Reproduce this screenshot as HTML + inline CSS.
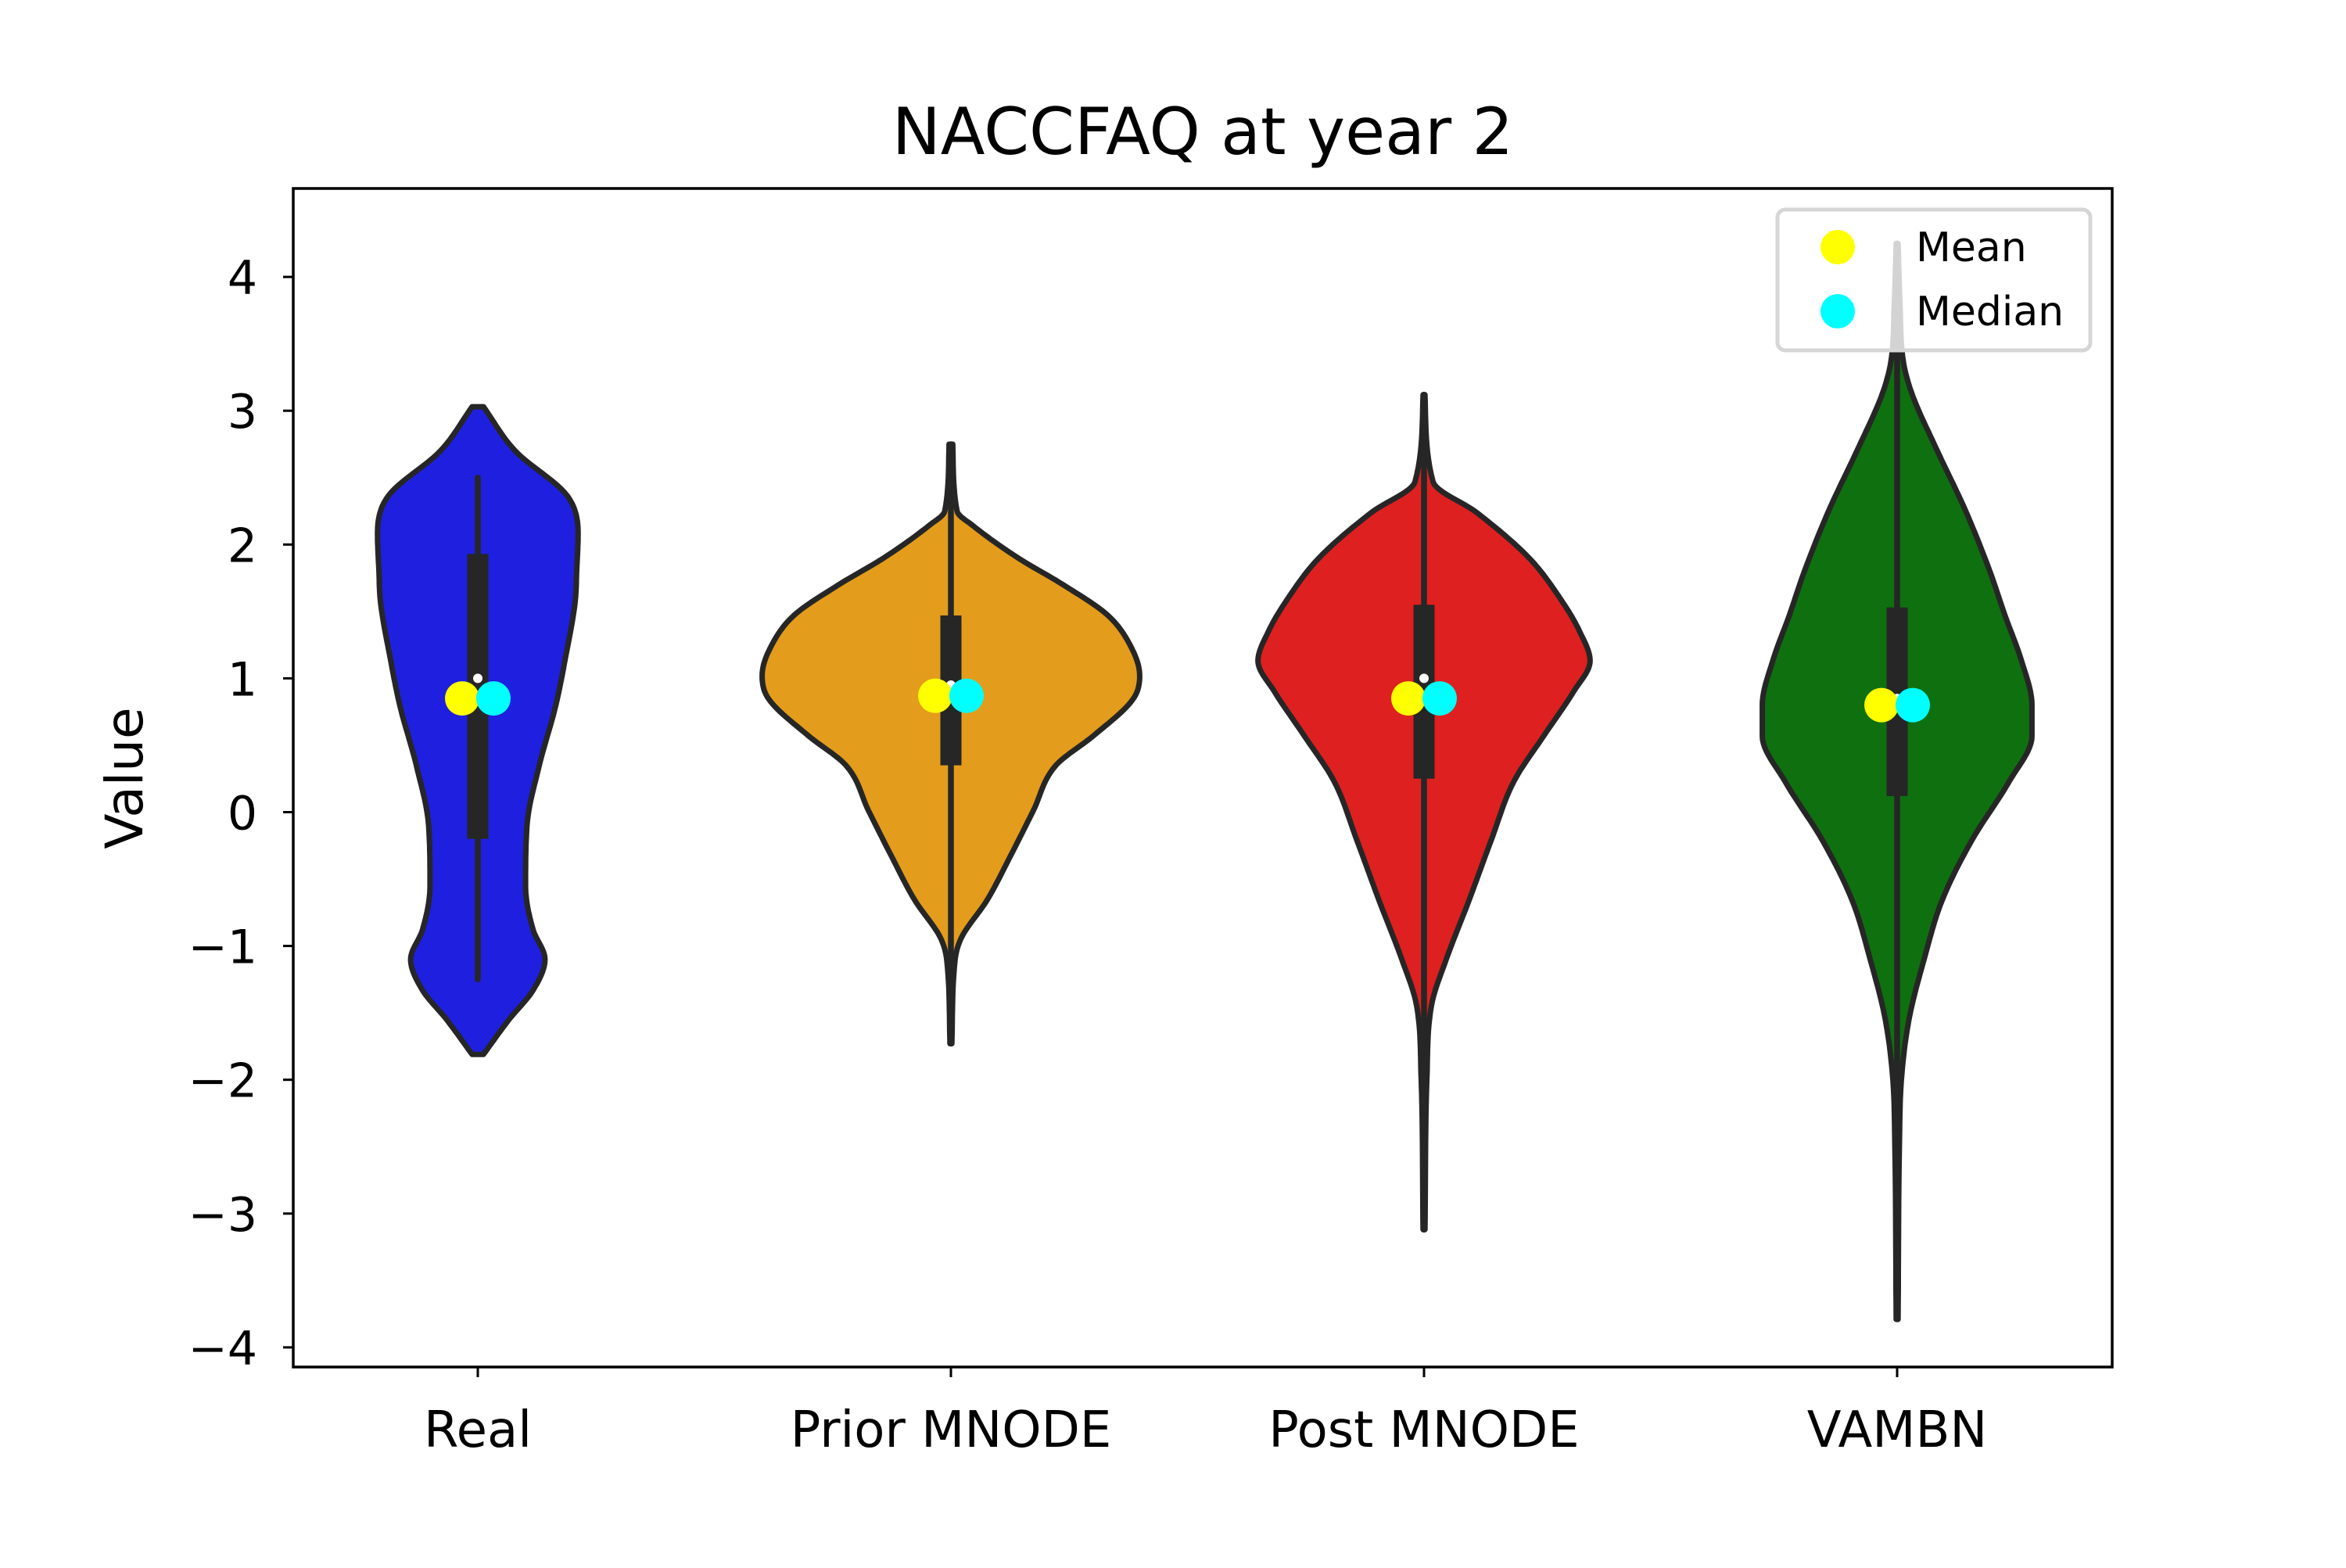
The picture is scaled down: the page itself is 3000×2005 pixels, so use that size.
<!DOCTYPE html>
<html><head><meta charset="utf-8"><style>
html,body{margin:0;padding:0;background:#fff}
svg text{font-family:"DejaVu Sans","Liberation Sans",sans-serif;fill:#000}
</style></head><body>
<svg id="chart" width="3000" height="2000" viewBox="0 0 3000 2000" xmlns="http://www.w3.org/2000/svg">
<rect width="3000" height="2000" fill="#fff"/>
<text x="1538" y="197" font-size="83" text-anchor="middle">NACCFAQ at year 2</text>
<text x="0" y="0" font-size="66" text-anchor="middle" transform="translate(182,995) rotate(-90)">Value</text>
<g id="axes"></g>
</svg>
<script>
const categories = ["Real","Prior MNODE","Post MNODE","VAMBN"];
const colors = ["#1f1fe0","#e39c1c","#df2020","#0f700f"];
const yTicks = [-4,-3,-2,-1,0,1,2,3,4];
const densityLevels = [
 [3.03,2.70,2.36,2.08,1.8,1.58,1.13,0.8,0.35,-0.1,-0.55,-0.88,-1.1,-1.33,-1.55,-1.81],
 [2.75,2.25,2.14,1.9,1.7,1.47,1.24,1.02,0.85,0.57,0.35,0.01,-0.32,-0.66,-0.94,-1.1,-1.73],
 [3.12,2.47,2.24,1.9,1.58,1.35,1.13,0.9,0.57,0.23,-0.21,-0.66,-1.1,-1.44,-2.0,-3.12],
 [4.25,3.8,3.37,3.14,2.7,2.25,1.8,1.47,1.13,0.8,0.57,0.23,-0.21,-0.66,-1.1,-1.55,-2.0,-2.45,-3.79]
];
const densityWidths = [
 [0.012,.079,.19,.212,.209,.206,.184,.165,.13,.104,.101,.117,.142,.117,.066,0.012],
 [0.004,.013,.047,.142,.237,.332,.38,.399,.386,.301,.222,.174,.127,.076,.022,.009,0.002],
 [0.002,.019,.111,.222,.291,.329,.351,.316,.253,.19,.142,.095,.047,.016,.006,0.002],
 [0.002,.006,.013,.03,.085,.145,.196,.228,.263,.285,.285,.237,.158,.095,.057,.025,.009,.005,0.002]
];
const q1 = [-0.2,0.35,0.25,0.12];
const q3 = [1.93,1.47,1.55,1.53];
const whiskLow = [-1.25,-1.73,-3.12,-3.79];
const whiskHigh = [2.5,2.75,3.12,4.25];
const medians = [1.0,0.95,1.0,0.85];
const means = [0.85,0.87,0.85,0.80];
const medianDots = [0.85,0.87,0.85,0.80];

const L=375,R=2701,T=241,B=1748;
const xScale=i=>611+605*i;
const wScale=u=>u*605;
const yScale=v=>1038.5-171.1*v;
const NS="http://www.w3.org/2000/svg";
const g=document.getElementById('axes');
function mk(tag,attrs,parent){const e=document.createElementNS(NS,tag);for(const k in attrs)e.setAttribute(k,attrs[k]);(parent||g).appendChild(e);return e;}
function sampleProfile(vs,ws){
 const n=vs.length,h=[],d=[],m=new Array(n);
 for(let k=0;k<n-1;k++){h[k]=vs[k+1]-vs[k];d[k]=(ws[k+1]-ws[k])/h[k];}
 m[0]=d[0];m[n-1]=d[n-2];
 for(let k=1;k<n-1;k++){m[k]=(d[k-1]*d[k]<=0)?0:(d[k-1]+d[k])/2;}
 for(let k=0;k<n-1;k++){if(d[k]===0){m[k]=0;m[k+1]=0;continue;}
  const a=m[k]/d[k],b=m[k+1]/d[k],s=a*a+b*b;if(s>9){const t=3/Math.sqrt(s);m[k]=t*a*d[k];m[k+1]=t*b*d[k];}}
 const out=[];
 for(let k=0;k<n-1;k++){for(let j=0;j<12;j++){const t=j/12,t2=t*t,t3=t2*t;
  const w=(2*t3-3*t2+1)*ws[k]+(t3-2*t2+t)*h[k]*m[k]+(-2*t3+3*t2)*ws[k+1]+(t3-t2)*h[k]*m[k+1];
  out.push([vs[k]+h[k]*t,Math.max(0,w)]);}}
 out.push([vs[n-1],ws[n-1]]);return out;
}
categories.forEach((c,i)=>{
 const cx=xScale(i);
 const prof=sampleProfile(densityLevels[i],densityWidths[i]);
 const right=prof.map(p=>[cx+wScale(p[1]),yScale(p[0])]);
 const left=prof.map(p=>[cx-wScale(p[1]),yScale(p[0])]).reverse();
 const pts=right.concat(left);
 const d='M'+pts.map(p=>p[0].toFixed(1)+','+p[1].toFixed(1)).join(' L')+'Z';
 const p=mk('path',{d:d,fill:colors[i],stroke:'#262626','stroke-width':7,'stroke-linejoin':'round'});
 
 
 const wl=mk('line',{x1:cx,x2:cx,y1:yScale(whiskLow[i]),y2:yScale(whiskHigh[i]),stroke:'#262626','stroke-width':7.5,'stroke-linecap':'round'});
 
 
 const bx=mk('rect',{x:cx-13.5,width:27,y:yScale(q3[i]),height:yScale(q1[i])-yScale(q3[i]),fill:'#262626'});
 
 
 const md=mk('circle',{cx:cx,cy:yScale(medians[i]),r:6,fill:'#fff'});
 
 
 const mn=mk('circle',{cx:cx-20,cy:yScale(means[i]),r:22,fill:'#ffff00'});
 
 
 const me=mk('circle',{cx:cx+20,cy:yScale(medianDots[i]),r:22,fill:'#00ffff'});
 
 
 const tk=mk('line',{x1:cx,x2:cx,y1:B,y2:B+13,stroke:'#000','stroke-width':3});
 
 
 const tl=mk('text',{x:cx,y:1850,'font-size':64,'text-anchor':'middle'});
 tl.textContent=c;
 
 
});
yTicks.forEach(v=>{
 const y=yScale(v);
 const tk=mk('line',{x1:L-13,x2:L,y1:y,y2:y,stroke:'#000','stroke-width':3});
 
 
 const tl=mk('text',{x:L-46,y:y+22,'font-size':60,'text-anchor':'end'});
 tl.textContent=(v<0?'\u2212'+(-v):String(v));
 
 
});
const fr=mk('rect',{x:L,y:T,width:R-L,height:B-T,fill:'none',stroke:'#000','stroke-width':3.5});


const lg=mk('g',{});


mk('rect',{x:2273,y:268,width:400,height:180,rx:10,fill:'rgba(255,255,255,0.8)',stroke:'#d6d6d6','stroke-width':5},lg);
mk('circle',{cx:2350,cy:316,r:22,fill:'#ffff00'},lg);
mk('circle',{cx:2350,cy:398,r:22,fill:'#00ffff'},lg);
const t1=mk('text',{x:2450,y:334,'font-size':52},lg);t1.textContent='Mean';


const t2=mk('text',{x:2450,y:416,'font-size':52},lg);t2.textContent='Median';


</script>
</body></html>
